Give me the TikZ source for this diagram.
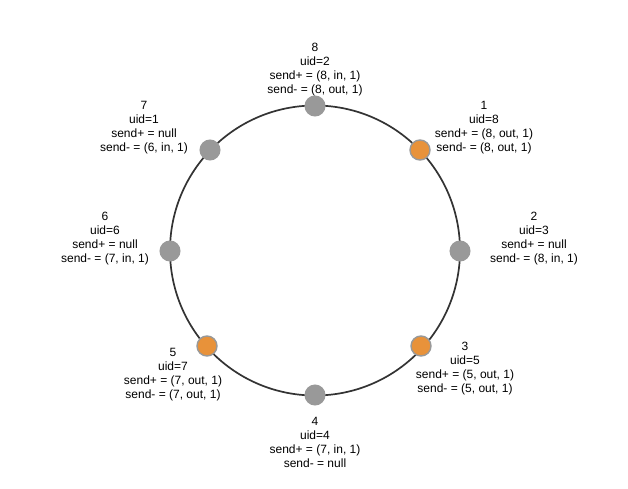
\documentclass[tikz,border=0pt]{standalone}
\usepackage{fontspec}
\setmainfont{Liberation Sans}
\definecolor{ringcol}{HTML}{333333}
\definecolor{graynode}{HTML}{999999}
\definecolor{orangenode}{HTML}{E8923A}
\begin{document}
\begin{tikzpicture}[x=1pt,y=-1pt,
  ring/.style={draw=ringcol,line width=1.7pt},
  plainnode/.style={circle,fill=graynode,draw=graynode,line width=1pt,minimum size=20pt,inner sep=0pt},
  marknode/.style={circle,fill=orangenode,draw=graynode,line width=1.4pt,minimum size=20pt,inner sep=0pt},
  info/.style={align=center,inner sep=0pt,font=\fontsize{12pt}{14pt}\selectfont}]
\useasboundingbox[fill=white] (0,0) rectangle (628,489);
\coordinate (c) at (315,250.5);
\draw[ring] (c) circle[radius=145];
\node[plainnode] (n8) at (315,106) {};
\node[marknode] (n1) at (420,150) {};
\node[plainnode] (n2) at (460,251) {};
\node[marknode] (n3) at (421,346) {};
\node[plainnode] (n4) at (315,395) {};
\node[marknode] (n5) at (207,346) {};
\node[plainnode] (n6) at (170,251) {};
\node[plainnode] (n7) at (210,150) {};
\node[info] (l8) at (315,69.5) {8\\uid=2\\send+ = (8, in, 1)\\send- = (8, out, 1)};
\node[info] (l1) at (484,127.5) {1\\uid=8\\send+ = (8, out, 1)\\send- = (8, out, 1)};
\node[info] (l2) at (534,238.5) {2\\uid=3\\send+ = null\\send- = (8, in, 1)};
\node[info] (l3) at (465,368.5) {3\\uid=5\\send+ = (5, out, 1)\\send- = (5, out, 1)};
\node[info] (l4) at (315,442.5) {4\\uid=4\\send+ = (7, in, 1)\\send- = null};
\node[info] (l5) at (173,375) {5\\uid=7\\send+ = (7, out, 1)\\send- = (7, out, 1)};
\node[info] (l6) at (105,238.5) {6\\uid=6\\send+ = null\\send- = (7, in, 1)};
\node[info] (l7) at (144,127.5) {7\\uid=1\\send+ = null\\send- = (6, in, 1)};
\end{tikzpicture}
\end{document}
